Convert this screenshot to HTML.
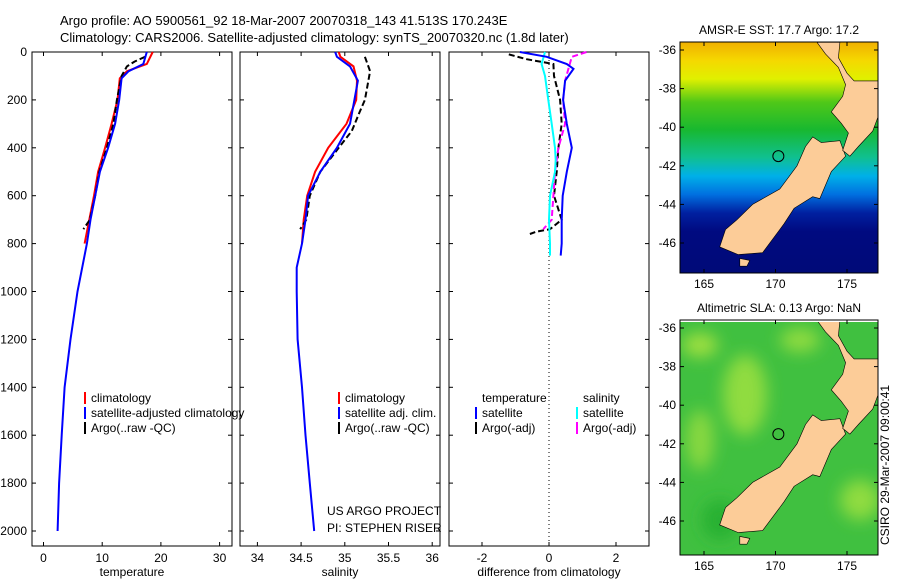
<!DOCTYPE html>
<html><head><meta charset="utf-8"><style>
body{margin:0;background:#fff;}
svg{display:block;font-family:"Liberation Sans",sans-serif;}
text{fill:#000;}
</style></head><body>
<svg id="fig" width="900" height="580" viewBox="0 0 900 580" xmlns="http://www.w3.org/2000/svg">
<defs>
<linearGradient id="sstGrad" x1="0" y1="0" x2="0" y2="1">
<stop offset="0" stop-color="#f0b000"/><stop offset="0.08" stop-color="#f5d800"/><stop offset="0.16" stop-color="#e0f000"/>
<stop offset="0.26" stop-color="#50c818"/><stop offset="0.38" stop-color="#18b830"/><stop offset="0.5" stop-color="#10c090"/>
<stop offset="0.58" stop-color="#00b0e8"/><stop offset="0.66" stop-color="#0070e0"/><stop offset="0.74" stop-color="#0020a0"/><stop offset="0.82" stop-color="#000a80"/><stop offset="1" stop-color="#000a78"/>
</linearGradient>
<clipPath id="c1"><rect x="680" y="42" width="198" height="231"/></clipPath>
<clipPath id="c2"><rect x="680" y="322" width="198" height="233"/></clipPath>
<filter id="blur"><feGaussianBlur stdDeviation="8"/></filter>
</defs>
<text x="60" y="25" font-size="13">Argo profile: AO 5900561_92 18-Mar-2007 20070318_143 41.513S 170.243E</text>
<text x="60" y="42" font-size="13">Climatology: CARS2006. Satellite-adjusted climatology: synTS_20070320.nc (1.8d later)</text>
<g id="panels"></g>
<g id="maps"></g>
<text x="889" y="545" font-size="12" transform="rotate(-90 889 545)">CSIRO 29-Mar-2007 09:00:41</text>
</svg>
<script>
// ---- data ----
const depthTempClim=[0,50,80,110,200,300,400,500,600,700,800];
const tempClim=[18.6,17.6,14.2,13.0,12.6,11.6,10.5,9.3,8.6,7.8,7.0];
const depthTempSat=[0,50,80,110,200,300,400,500,600,700,800,1000,1200,1400,1600,1800,2000];
const tempSat=[17.6,17.0,14.5,13.3,12.9,12.2,11.0,9.6,8.8,8.0,7.4,5.8,4.6,3.6,3.1,2.65,2.4];
const depthTempArgo=[20,40,60,100,200,300,400,500,600,700,740];
const tempArgo=[17.3,15.5,14.2,13.3,12.5,11.9,10.8,9.5,8.8,7.9,6.8];
const depthSalClim=[0,20,60,120,200,300,400,500,600,700,800];
const salClim=[34.93,34.95,35.10,35.14,35.13,35.02,34.81,34.66,34.57,34.53,34.51];
const depthSalSat=[0,20,60,120,200,300,400,500,600,700,800,900,1000,1200,1400,1600,1800,2000];
const salSat=[34.89,34.91,35.06,35.15,35.11,35.06,34.91,34.72,34.58,34.55,34.51,34.45,34.45,34.46,34.51,34.55,34.60,34.65];
const depthSalArgo=[20,80,200,250,330,400,500,600,700,740];
const salArgo=[35.23,35.29,35.23,35.17,35.08,34.93,34.72,34.60,34.56,34.49];
const depthDiffTSat=[0,20,50,70,120,200,300,400,500,600,700,800,850];
const diffTSat=[-0.87,-0.07,0.53,0.73,0.48,0.42,0.53,0.68,0.53,0.41,0.38,0.38,0.35];
const depthDiffSSat=[0,50,100,200,300,400,450,500,600,700,800,850];
const diffSSat=[-0.12,-0.22,-0.12,-0.02,0.08,0.18,0.2,0.18,0.03,0.0,0.03,0.03];
const depthDiffTArgo=[10,30,50,100,200,300,400,500,600,700,740,750,760];
const diffTArgo=[-1.2,-0.67,0.13,0.15,0.33,0.38,0.28,0.23,0.15,0.38,0.03,-0.37,-0.57];
const depthDiffSArgo=[0,20,60,120,200,300,400,500,600,700,740];
const diffSArgo=[1.12,0.68,0.6,0.48,0.42,0.48,0.28,0.18,0.13,0.08,-0.17];
const depthTicks=[0,200,400,600,800,1000,1200,1400,1600,1800,2000];
const tempTicks=[0,10,20,30];
const salTicks=[34,34.5,35,35.5,36];
const diffTicks=[-2,0,2];
const latTicks=[-36,-38,-40,-42,-44,-46];
const lonTicks=[165,170,175];

const NS='http://www.w3.org/2000/svg';
function mk(tag,attrs,parent){const e=document.createElementNS(NS,tag);for(const k in attrs)e.setAttribute(k,attrs[k]);parent.appendChild(e);return e;}
const yD=d=>52+d*0.2395;
const axisTop=52, axisBot=546;
const P=[
 {l:32,r:232,x:v=>43.5+(v-0)*5.87,ticks:tempTicks,label:'temperature',name:'temperature-panel'},
 {l:240,r:440,x:v=>257.4+(v-34)*87.4,ticks:salTicks,label:'salinity',name:'salinity-panel'},
 {l:449,r:649,x:v=>549+v*33.5,ticks:diffTicks,label:'difference from climatology',name:'difference-panel'}
];
const G=document.getElementById('panels');
P.forEach((p,i)=>{
  const g=mk('g',{},G);
  
  
  const b=mk('rect',{x:p.l,y:axisTop,width:p.r-p.l,height:axisBot-axisTop,fill:'#fff',stroke:'#000','stroke-width':1},g);
  
  
  depthTicks.forEach(d=>{
    const y=yD(d);
    mk('line',{x1:p.l,x2:p.l+4,y1:y,y2:y,stroke:'#000'},g);
    mk('line',{x1:p.r-4,x2:p.r,y1:y,y2:y,stroke:'#000'},g);
    if(i===0){const t=mk('text',{x:p.l-5,y:y+4,'font-size':12,'text-anchor':'end'},g);t.textContent=d;
      
      }
  });
  p.ticks.forEach(v=>{
    const x=p.x(v);
    mk('line',{x1:x,x2:x,y1:axisTop,y2:axisTop+4,stroke:'#000'},g);
    mk('line',{x1:x,x2:x,y1:axisBot-4,y2:axisBot,stroke:'#000'},g);
    const t=mk('text',{x:x,y:562,'font-size':12,'text-anchor':'middle'},g);t.textContent=v;
    
    
  });
  const xl=mk('text',{x:(p.l+p.r)/2,y:576,'font-size':12,'text-anchor':'middle'},g);xl.textContent=p.label;
  
  
});
function line(pi,depths,vals,color,w,dash,name){
  const p=P[pi];
  const pts=depths.map((d,k)=>p.x(vals[k]).toFixed(1)+','+yD(d).toFixed(1)).join(' ');
  const e=mk('polyline',{points:pts,fill:'none',stroke:color,'stroke-width':w},G);
  if(dash)e.setAttribute('stroke-dasharray',dash);
  
  
}
// zero line
const z=mk('line',{x1:P[2].x(0),x2:P[2].x(0),y1:axisTop,y2:axisBot,stroke:'#000','stroke-dasharray':'1,3'},G);


line(0,depthTempClim,tempClim,'#f00',2,null,'temp-climatology-line');
line(0,depthTempArgo,tempArgo,'#000',2,'6,3','temp-argo-line');
line(0,depthTempSat,tempSat,'#00f',2,null,'temp-satellite-line');
line(1,depthSalClim,salClim,'#f00',2,null,'sal-climatology-line');
line(1,depthSalArgo,salArgo,'#000',2,'6,3','sal-argo-line');
line(1,depthSalSat,salSat,'#00f',2,null,'sal-satellite-line');
line(2,depthDiffTArgo,diffTArgo,'#000',2,'6,3','diff-temp-argo-line');
line(2,depthDiffSArgo,diffSArgo,'#f0f',2,'6,3','diff-sal-argo-line');
line(2,depthDiffSSat,diffSSat,'#0ff',2,null,'diff-sal-satellite-line');
line(2,depthDiffTSat,diffTSat,'#00f',2,null,'diff-temp-satellite-line');
// legends
function leg(x,y,color,txt){
  const g=mk('g',{},G);
  
  
  if(color)mk('rect',{x:x,y:y-10,width:2,height:12,fill:color},g);
  const t=mk('text',{x:x+(color?7:0),y:y,'font-size':12},g);t.textContent=txt;
}
leg(84,402,'#f00','climatology');leg(84,417,'#00f','satellite-adjusted climatology');leg(84,432,'#000','Argo(..raw -QC)');
leg(338,402,'#f00','climatology');leg(338,417,'#00f','satellite adj. clim.');leg(338,432,'#000','Argo(..raw -QC)');
leg(482,402,null,'temperature');leg(475,417,'#00f','satellite');leg(475,432,'#000','Argo(-adj)');
leg(583,402,null,'salinity');leg(576,417,'#0ff','satellite');leg(576,432,'#f0f','Argo(-adj)');
const cr=mk('text',{x:327,y:553-38,'font-size':12},G);cr.textContent='US ARGO PROJECT';


const cr2=mk('text',{x:327,y:532,'font-size':12},G);cr2.textContent='PI: STEPHEN RISER';



// ---- maps ----
const south=[[172.6,-40.5],[173.2,-40.8],[174.5,-40.7],[174.9,-41.5],[173.9,-42.3],[173.1,-43.7],[172.6,-43.6],[171.3,-44.2],[170.6,-45.0],[170.3,-45.3],[169.1,-46.5],[167.4,-46.6],[166.1,-46.2],[166.5,-45.3],[167.3,-44.8],[168.4,-44.0],[170.3,-43.2],[171.5,-42.0],[172.1,-41.0]];
const north=[[172.9,-35.6],[174.5,-35.6],[174.4,-36.4],[175.0,-37.2],[175.5,-37.6],[177.2,-37.6],[177.2,-39.4],[176.8,-40.2],[175.8,-41.0],[175.2,-41.5],[174.7,-41.2],[175.1,-40.3],[174.6,-39.8],[173.9,-39.2],[174.7,-38.4],[174.9,-37.8],[174.4,-36.9],[173.5,-36.2]];
const stewart=[[167.5,-46.8],[168.2,-46.9],[168.0,-47.2],[167.5,-47.2]];
const M=document.getElementById('maps');
function drawMap(top,bot,latTop,clip,bg,title,name){
  const g=mk('g',{},M);
  
  
  const lx=lon=>704+(lon-165)*14.3;
  const ly=lat=>top+(latTop-lat)*19.3;
  const inner=mk('g',{'clip-path':'url(#'+clip+')'},g);
  bg(inner,lx,ly);
  [south,north,stewart].forEach(poly=>{
    const e=mk('polygon',{points:poly.map(q=>lx(q[0]).toFixed(1)+','+ly(q[1]).toFixed(1)).join(' '),fill:'#fccc98',stroke:'#000','stroke-width':0.6},inner);
    
    
  });
  mk('circle',{cx:lx(170.2),cy:ly(-41.5),r:5.5,fill:'none',stroke:'#000','stroke-width':1},inner);
  mk('rect',{x:680,y:top-8,width:198,height:bot-top+8,fill:'none',stroke:'#000'},g);
  latTicks.forEach(v=>{const y=ly(v);
    mk('line',{x1:680,x2:684,y1:y,y2:y,stroke:'#000'},g);mk('line',{x1:874,x2:878,y1:y,y2:y,stroke:'#000'},g);
    const t=mk('text',{x:676,y:y+4,'font-size':12,'text-anchor':'end'},g);t.textContent=v;
    
    });
  lonTicks.forEach(v=>{const x=lx(v);
    mk('line',{x1:x,x2:x,y1:top-8,y2:top-4,stroke:'#000'},g);mk('line',{x1:x,x2:x,y1:bot-4,y2:bot,stroke:'#000'},g);
    const t=mk('text',{x:x,y:bot+15,'font-size':12,'text-anchor':'middle'},g);t.textContent=v;
    
    });
  const tt=mk('text',{x:779,y:top-16,'font-size':12,'text-anchor':'middle'},g);tt.textContent=title;
  
  
}
drawMap(50,273,-36,'c1',(g)=>{mk('rect',{x:680,y:42,width:198,height:231,fill:'url(#sstGrad)'},g);},'AMSR-E SST: 17.7 Argo: 17.2','sst-map');
drawMap(328,555,-36,'c2',(g)=>{
  mk('rect',{x:680,y:322,width:198,height:233,fill:'#40c040'},g);
  const b=mk('g',{filter:'url(#blur)'},g);
  mk('ellipse',{cx:700,cy:345,rx:18,ry:12,fill:'#a0e040'},b);
  mk('ellipse',{cx:745,cy:395,rx:22,ry:40,fill:'#90dc40'},b);
  mk('ellipse',{cx:800,cy:340,rx:20,ry:12,fill:'#90dc40'},b);
  mk('ellipse',{cx:700,cy:440,rx:14,ry:30,fill:'#88d840'},b);
  mk('ellipse',{cx:860,cy:500,rx:20,ry:20,fill:'#90dc40'},b);
  mk('ellipse',{cx:720,cy:520,rx:18,ry:20,fill:'#28b030'},b);
},'Altimetric SLA: 0.13 Argo: NaN','sla-map');
</script>
</body></html>
